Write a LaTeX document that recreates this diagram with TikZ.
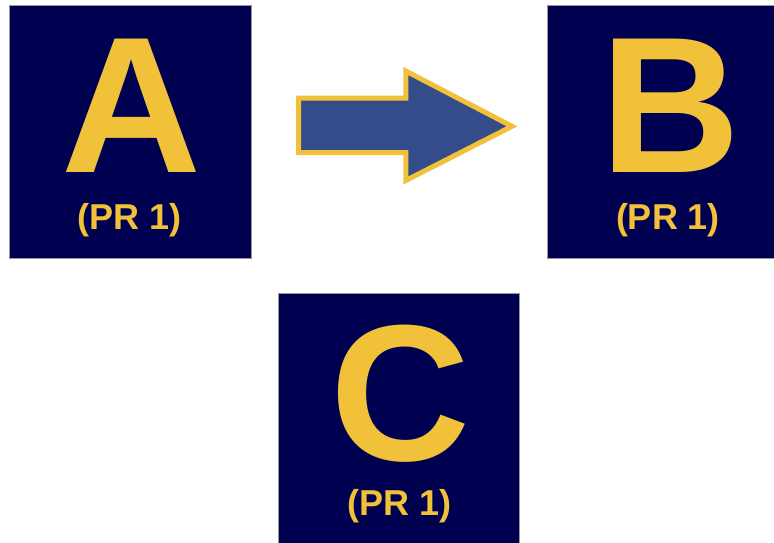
\documentclass[tikz,border=0pt]{standalone}
\usepackage{fontspec}
\setmainfont{Liberation Sans}
\definecolor{navy}{HTML}{000050}
\definecolor{gold}{HTML}{F2C13A}
\definecolor{arrowblue}{HTML}{354C8A}
\begin{document}
\begin{tikzpicture}[x=1pt,y=-1pt,
  box/.style={rectangle, fill=navy, draw=gray!80, line width=0.8pt, inner sep=0pt},
  bigletter/.style={anchor=base, text=gold, inner sep=0pt, font=\fontsize{194}{194}\bfseries\selectfont},
  prlabel/.style={anchor=base, text=gold, inner sep=0pt, font=\fontsize{36}{36}\bfseries\selectfont}]
\useasboundingbox (0,0) rectangle (774,543);
% boxes
\node[box, minimum width=241.7pt, minimum height=252.4pt, anchor=north west] (boxA) at (9,5.3) {};
\node[box, minimum width=242pt, minimum height=252.4pt, anchor=north west] (boxB) at (546.7,5.3) {};
\node[box, minimum width=241.3pt, minimum height=252pt, anchor=north west] (boxC) at (278,293.3) {};
% letters
\node[bigletter] (lA) at (131.5,172) {A};
\node[prlabel] (pA) at (130,229) {(PR 1)};
\node[bigletter] (lB) at (671,172) {B};
\node[prlabel] (pB) at (668,229) {(PR 1)};
\node[bigletter] (lC) at (400.5,460) {C};
\node[prlabel] (pC) at (400,515) {(PR 1)};
% block arrow
\coordinate (t1) at (298.5,98.2);
\coordinate (t2) at (405.8,98.2);
\coordinate (t3) at (405.8,71);
\coordinate (tip) at (512,126.3);
\coordinate (b3) at (405.8,180.5);
\coordinate (b2) at (405.8,152.5);
\coordinate (b1) at (298.5,152.5);
\draw[fill=arrowblue, draw=gold, line width=5pt, line join=miter]
  (t1) -- (t2) -- (t3) -- (tip) -- (b3) -- (b2) -- (b1) -- cycle;
\end{tikzpicture}
\end{document}
